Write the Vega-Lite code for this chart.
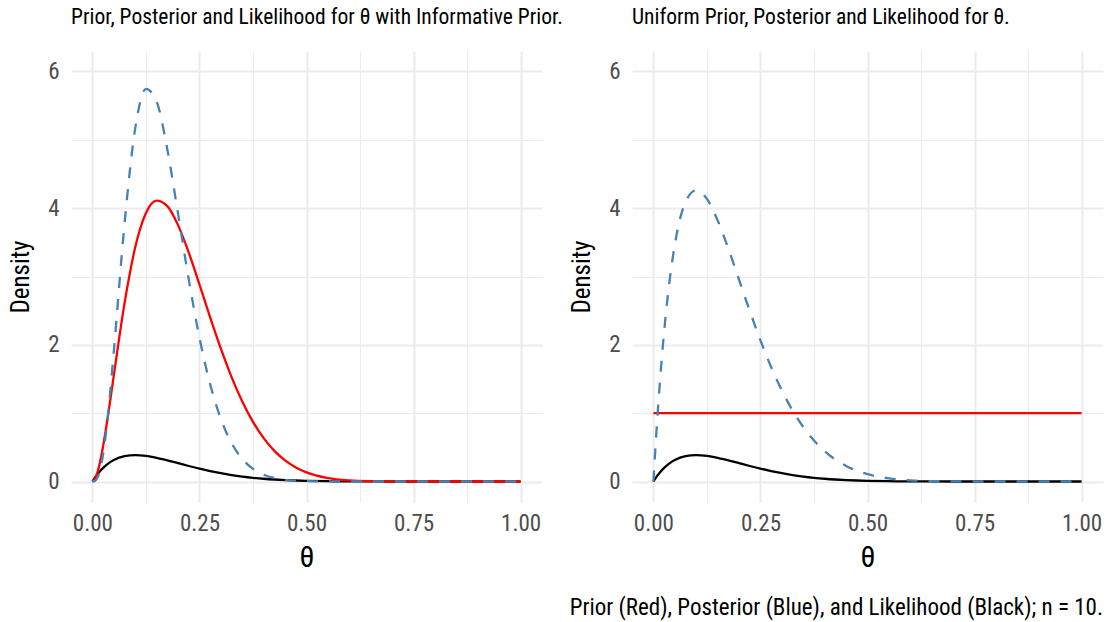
{
  "$schema": "https://vega.github.io/schema/vega-lite/v6.json",
  "padding": {"left": 8, "top": 6, "right": 3, "bottom": 2},
  "background": "white",
  "spacing": 90,
  "bounds": "flush",
  "title": {
    "text": "Prior (Red), Posterior (Blue), and Likelihood (Black); n = 10.",
    "orient": "bottom",
    "anchor": "end",
    "frame": "bounds",
    "fontSize": 23,
    "fontWeight": "normal",
    "font": "Roboto Condensed, Liberation Sans Narrow, Roboto",
    "color": "black",
    "offset": 25
  },
  "datasets": {
    "curves": [
      {"theta": 0, "lik": 0, "priorI": 0, "postI": 0, "postU": 0, "priorU": 1},
      {"theta": 0.00625, "lik": 0.0591, "priorI": 0.0398, "postI": 0.0092, "postU": 0.650, "priorU": 1},
      {"theta": 0.0125, "lik": 0.1116, "priorI": 0.1486, "postI": 0.0646, "postU": 1.228, "priorU": 1},
      {"theta": 0.025, "lik": 0.1991, "priorI": 0.5166, "postI": 0.4003, "postU": 2.190, "priorU": 1},
      {"theta": 0.0375, "lik": 0.2658, "priorI": 1.0086, "postI": 1.0436, "postU": 2.924, "priorU": 1},
      {"theta": 0.05, "lik": 0.3151, "priorI": 1.553, "postI": 1.905, "postU": 3.466, "priorU": 1},
      {"theta": 0.075, "lik": 0.3719, "priorI": 2.606, "postI": 3.771, "postU": 4.090, "priorU": 1},
      {"theta": 0.1, "lik": 0.3874, "priorI": 3.427, "postI": 5.168, "postU": 4.262, "priorU": 1},
      {"theta": 0.125, "lik": 0.3759, "priorI": 3.928, "postI": 5.746, "postU": 4.135, "priorU": 1},
      {"theta": 0.15, "lik": 0.3474, "priorI": 4.111, "postI": 5.560, "postU": 3.821, "priorU": 1},
      {"theta": 0.175, "lik": 0.3099, "priorI": 4.030, "postI": 4.859, "postU": 3.409, "priorU": 1},
      {"theta": 0.2, "lik": 0.2684, "priorI": 3.752, "postI": 3.920, "postU": 2.953, "priorU": 1},
      {"theta": 0.225, "lik": 0.2270, "priorI": 3.350, "postI": 2.958, "postU": 2.497, "priorU": 1},
      {"theta": 0.25, "lik": 0.1877, "priorI": 2.883, "postI": 2.106, "postU": 2.065, "priorU": 1},
      {"theta": 0.275, "lik": 0.1522, "priorI": 2.402, "postI": 1.423, "postU": 1.674, "priorU": 1},
      {"theta": 0.3, "lik": 0.1211, "priorI": 1.943, "postI": 0.9157, "postU": 1.332, "priorU": 1},
      {"theta": 0.325, "lik": 0.0945, "priorI": 1.528, "postI": 0.5626, "postU": 1.040, "priorU": 1},
      {"theta": 0.35, "lik": 0.0725, "priorI": 1.171, "postI": 0.3302, "postU": 0.797, "priorU": 1},
      {"theta": 0.375, "lik": 0.0546, "priorI": 0.873, "postI": 0.1854, "postU": 0.600, "priorU": 1},
      {"theta": 0.4, "lik": 0.0403, "priorI": 0.634, "postI": 0.0995, "postU": 0.443, "priorU": 1},
      {"theta": 0.425, "lik": 0.0292, "priorI": 0.448, "postI": 0.0509, "postU": 0.321, "priorU": 1},
      {"theta": 0.45, "lik": 0.0207, "priorI": 0.308, "postI": 0.0249, "postU": 0.228, "priorU": 1},
      {"theta": 0.475, "lik": 0.0144, "priorI": 0.206, "postI": 0.0115, "postU": 0.158, "priorU": 1},
      {"theta": 0.5, "lik": 0.0098, "priorI": 0.133, "postI": 0.0051, "postU": 0.107, "priorU": 1},
      {"theta": 0.55, "lik": 0.0042, "priorI": 0.0506, "postI": 0.0008, "postU": 0.0458, "priorU": 1},
      {"theta": 0.6, "lik": 0.0016, "priorI": 0.0165, "postI": 0.0001, "postU": 0.0173, "priorU": 1},
      {"theta": 0.65, "lik": 0.0005, "priorI": 0.0045, "postI": 0, "postU": 0.0056, "priorU": 1},
      {"theta": 0.7, "lik": 0.0001, "priorI": 0.0009, "postI": 0, "postU": 0.0015, "priorU": 1},
      {"theta": 0.8, "lik": 0, "priorI": 0, "postI": 0, "postU": 0, "priorU": 1},
      {"theta": 0.9, "lik": 0, "priorI": 0, "postI": 0, "postU": 0, "priorU": 1},
      {"theta": 1, "lik": 0, "priorI": 0, "postI": 0, "postU": 0, "priorU": 1}
    ]
  },
  "config": {
    "view": {"stroke": null},
    "font": "Roboto Condensed, Liberation Sans Narrow, Roboto",
    "axis": {
      "domain": false,
      "ticks": false,
      "grid": true,
      "gridColor": "#ebebeb",
      "labelColor": "#4d4d4d",
      "labelFontSize": 23,
      "labelFont": "Roboto Condensed, Liberation Sans Narrow, Roboto",
      "titleFont": "Roboto Condensed, Liberation Sans Narrow, Roboto",
      "titleFontWeight": "normal",
      "titleColor": "black",
      "titleFontSize": 25
    },
    "title": {
      "font": "Roboto Condensed, Liberation Sans Narrow, Roboto",
      "fontWeight": "normal",
      "fontSize": 21.5,
      "color": "black",
      "anchor": "start",
      "offset": 23
    },
    "line": {"interpolate": "monotone", "strokeWidth": 2.3}
  },
  "hconcat": [
    {
      "width": 471,
      "height": 451,
      "title": {"text": "Prior, Posterior and Likelihood for θ with Informative Prior.", "frame": "group"},
      "data": {"name": "curves"},
      "encoding": {
        "x": {
          "field": "theta", "type": "quantitative",
          "scale": {"domain": [-0.05, 1.05], "nice": false, "zero": false},
          "axis": {
            "title": "θ", "titleFontSize": 30, "titlePadding": 7,
            "values": [0, 0.125, 0.25, 0.375, 0.5, 0.625, 0.75, 0.875, 1],
            "format": ".2f", "labelPadding": 10,
            "labelExpr": "(datum.value * 4) % 1 === 0 ? datum.label : ''",
            "gridWidth": {"condition": {"test": "(datum.value * 4) % 1 !== 0", "value": 1}, "value": 2}
          }
        }
      },
      "layer": [
        {
          "mark": {"type": "line", "color": "black"},
          "encoding": {
            "y": {
              "field": "lik", "type": "quantitative",
              "scale": {"domain": [-0.3, 6.3], "nice": false, "zero": false},
              "axis": {
                "title": "Density", "titlePadding": 14,
                "values": [0, 1, 2, 3, 4, 5, 6],
                "format": "d", "labelPadding": 12,
                "labelExpr": "datum.value % 2 === 0 ? datum.label : ''",
                "gridWidth": {"condition": {"test": "datum.value % 2 !== 0", "value": 1}, "value": 2}
              }
            }
          }
        },
        {"mark": {"type": "line", "color": "#ff0000"}, "encoding": {"y": {"field": "priorI", "type": "quantitative"}}},
        {"mark": {"type": "line", "color": "#4682b4", "strokeDash": [11, 11]}, "encoding": {"y": {"field": "postI", "type": "quantitative"}}}
      ]
    },
    {
      "width": 471,
      "height": 451,
      "title": {"text": "Uniform Prior, Posterior and Likelihood for θ.", "frame": "group"},
      "data": {"name": "curves"},
      "encoding": {
        "x": {
          "field": "theta", "type": "quantitative",
          "scale": {"domain": [-0.05, 1.05], "nice": false, "zero": false},
          "axis": {
            "title": "θ", "titleFontSize": 30, "titlePadding": 7,
            "values": [0, 0.125, 0.25, 0.375, 0.5, 0.625, 0.75, 0.875, 1],
            "format": ".2f", "labelPadding": 10,
            "labelExpr": "(datum.value * 4) % 1 === 0 ? datum.label : ''",
            "gridWidth": {"condition": {"test": "(datum.value * 4) % 1 !== 0", "value": 1}, "value": 2}
          }
        }
      },
      "layer": [
        {
          "mark": {"type": "line", "color": "black"},
          "encoding": {
            "y": {
              "field": "lik", "type": "quantitative",
              "scale": {"domain": [-0.3, 6.3], "nice": false, "zero": false},
              "axis": {
                "title": "Density", "titlePadding": 14,
                "values": [0, 1, 2, 3, 4, 5, 6],
                "format": "d", "labelPadding": 12,
                "labelExpr": "datum.value % 2 === 0 ? datum.label : ''",
                "gridWidth": {"condition": {"test": "datum.value % 2 !== 0", "value": 1}, "value": 2}
              }
            }
          }
        },
        {"mark": {"type": "line", "color": "#ff0000"}, "encoding": {"y": {"field": "priorU", "type": "quantitative"}}},
        {"mark": {"type": "line", "color": "#4682b4", "strokeDash": [11, 11]}, "encoding": {"y": {"field": "postU", "type": "quantitative"}}}
      ]
    }
  ]
}
